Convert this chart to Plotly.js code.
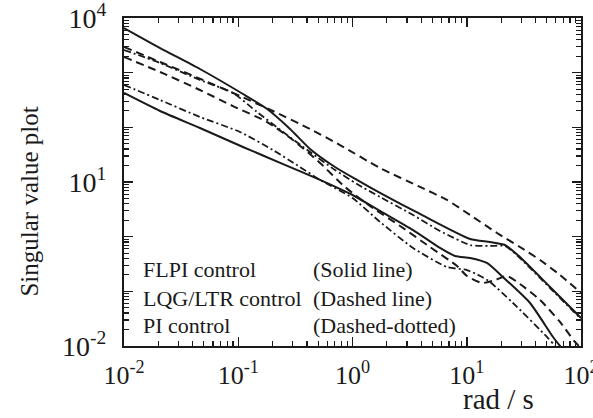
<!DOCTYPE html>
<html>
<head>
<meta charset="utf-8">
<script src="https://cdn.plot.ly/plotly-3.0.1.min.js"></script>
<style>html,body{margin:0;padding:0;background:#fff;}#chart{width:593px;height:418px;}</style>
</head>
<body>
<div id="chart"></div>
<script>
// FLPI control (solid line): max and min singular values
var flpiMaxW = [0.01, 0.0207, 0.0462, 0.110, 0.179, 0.284, 0.425, 0.703, 1.094, 1.742, 3.90, 10.7, 16.0, 21.6, 29.2, 53.6, 100];
var flpiMaxS = [6560, 2825, 1167, 407, 216, 93.3, 40.2, 18.8, 10.9, 6.30, 2.60, 0.908, 0.800, 0.705, 0.425, 0.120, 0.0326];
var flpiMinW = [0.01, 0.0207, 0.0462, 0.110, 0.247, 0.520, 1.0, 1.742, 3.39, 5.83, 7.89, 10.7, 15.0, 20.7, 35.8, 56.9, 65.5, 80.2];
var flpiMinS = [425, 199, 97.3, 43.7, 21.3, 10.9, 5.78, 2.95, 1.32, 0.621, 0.444, 0.407, 0.330, 0.183, 0.0612, 0.0146, 0.0100, 0.00604];

// LQG/LTR control (dashed line)
var lqgMaxW = [0.01, 0.0207, 0.0491, 0.1035, 0.201, 0.425, 0.778, 1.742, 3.90, 6.71, 10.7, 18.4, 29.2, 43.8, 65.5, 100];
var lqgMaxS = [2951, 1567, 735, 374, 199, 93.3, 47.5, 18.0, 8.11, 4.69, 2.49, 1.167, 0.647, 0.374, 0.199, 0.0933];
var lqgMinW = [0.01, 0.0207, 0.0462, 0.0899, 0.179, 0.301, 0.520, 0.859, 1.422, 2.61, 4.76, 8.22, 10.05, 13.6, 17.7, 22.5, 29.2, 43.8, 65.5, 88.5, 108];
var lqgMinS = [1936, 1028, 482, 245, 125, 58.6, 22.3, 8.11, 3.64, 1.57, 0.647, 0.291, 0.191, 0.142, 0.161, 0.191, 0.136, 0.0695, 0.0275, 0.0119, 0.00778];

// PI control (dashed-dotted)
var piMaxW = [0.01, 0.0207, 0.0462, 0.0899, 0.146, 0.247, 0.425, 0.703, 1.094, 1.742, 3.39, 5.83, 10.7, 16.0, 21.6, 29.2, 53.6, 100];
var piMaxS = [2600, 1503, 735, 425, 191, 82.2, 35.4, 16.6, 9.20, 5.32, 2.49, 1.271, 0.705, 0.676, 0.676, 0.407, 0.115, 0.0312];
var piMinW = [0.01, 0.0207, 0.0462, 0.1035, 0.201, 0.347, 0.520, 1.0, 1.742, 3.39, 6.71, 10.05, 13.1, 16.0, 25.4, 50.5, 59.2, 72.4];
var piMinS = [596, 316, 155, 82.2, 38.5, 18.8, 10.9, 5.09, 1.86, 0.621, 0.279, 0.245, 0.191, 0.148, 0.0612, 0.0146, 0.0100, 0.00604];

// Axis ticks and labels
var xTickVals = [0.01, 0.1, 1, 10, 100];
var xTickText = ['10<sup>-2</sup>', '10<sup>-1</sup>', '10<sup>0</sup>', '10<sup>1</sup>', '10<sup>2</sup>'];
var yTickVals = [0.01, 0.1, 1, 10, 100, 1000, 10000];
var yTickText = ['10<sup>-2</sup>', ' ', ' ', '10<sup>1</sup>', ' ', ' ', '10<sup>4</sup>'];

// Legend text
var legendNames = ['FLPI control', 'LQG/LTR control', 'PI control'];
var legendStyles = ['(Solid line)', '(Dashed line)', '(Dashed-dotted)'];

function minorTicks(lo, hi) {
  var v = [];
  for (var e = lo; e < hi; e++) {
    for (var m = 2; m <= 9; m++) v.push(m * Math.pow(10, e));
  }
  return v;
}

var ink = '#1a1a1a';
var solid = {color: ink, width: 2, shape: 'spline', smoothing: 0.6};
var dashed = {color: ink, width: 2, dash: '8px,5px', shape: 'spline', smoothing: 0.6};
var dashdot = {color: ink, width: 1.8, dash: '7px,3px,2px,3px', shape: 'spline', smoothing: 0.6};

function tr(x, y, line) {
  return {x: x, y: y, type: 'scatter', mode: 'lines', line: line, hoverinfo: 'skip', showlegend: false};
}

var data = [
  tr(flpiMaxW, flpiMaxS, solid),
  tr(flpiMinW, flpiMinS, solid),
  tr(lqgMaxW, lqgMaxS, dashed),
  tr(lqgMinW, lqgMinS, dashed),
  tr(piMaxW, piMaxS, dashdot),
  tr(piMinW, piMinS, dashdot)
];

var font = 'Liberation Serif, Times New Roman, serif';
var annotations = [];
var rowY = [0.232, 0.146, 0.064];
for (var i = 0; i < 3; i++) {
  annotations.push({xref: 'paper', yref: 'paper', x: 0.037, y: rowY[i], xanchor: 'left', yanchor: 'middle',
    text: legendNames[i], showarrow: false, font: {family: font, size: 22, color: ink}});
  annotations.push({xref: 'paper', yref: 'paper', x: 0.41, y: rowY[i], xanchor: 'left', yanchor: 'middle',
    text: legendStyles[i], showarrow: false, font: {family: font, size: 22, color: ink}});
}
annotations.push({xref: 'paper', yref: 'paper', x: 0.82, y: -0.163, xanchor: 'center', yanchor: 'middle',
  text: 'rad / s', showarrow: false, font: {family: font, size: 29, color: ink}});
annotations.push({xref: 'paper', yref: 'paper', x: -0.206, y: 0.44, xanchor: 'center', yanchor: 'middle',
  text: 'Singular value plot', textangle: -90, showarrow: false, font: {family: font, size: 25, color: ink}});

var axisCommon = {
  type: 'log', showgrid: false, zeroline: false, showline: true, linecolor: ink, linewidth: 2,
  mirror: 'allticks', ticks: 'inside', ticklen: 9, tickwidth: 1.5, tickcolor: ink,
  tickmode: 'array', ticklabeloverflow: 'allow'
};

var layout = {
  width: 593, height: 418,
  margin: {l: 124, r: 12, t: 18, b: 72},
  paper_bgcolor: '#fff', plot_bgcolor: '#fff',
  showlegend: false,
  xaxis: Object.assign({}, axisCommon, {
    range: [-2, 2], tickvals: xTickVals, ticktext: xTickText, ticklabelstandoff: 5,
    tickfont: {family: font, size: 26, color: ink},
    minor: {tickmode: 'array', tickvals: minorTicks(-2, 2), ticks: 'inside', ticklen: 5, tickwidth: 1.2, tickcolor: ink, showgrid: false}
  }),
  yaxis: Object.assign({}, axisCommon, {
    range: [-2, 4], tickvals: yTickVals, ticktext: yTickText, ticklabelstandoff: 10,
    tickfont: {family: font, size: 28, color: ink},
    minor: {tickmode: 'array', tickvals: minorTicks(-2, 4), ticks: 'inside', ticklen: 5, tickwidth: 1.2, tickcolor: ink, showgrid: false}
  }),
  annotations: annotations
};

Plotly.newPlot('chart', data, layout, {displayModeBar: false, staticPlot: true});
</script>
</body>
</html>
